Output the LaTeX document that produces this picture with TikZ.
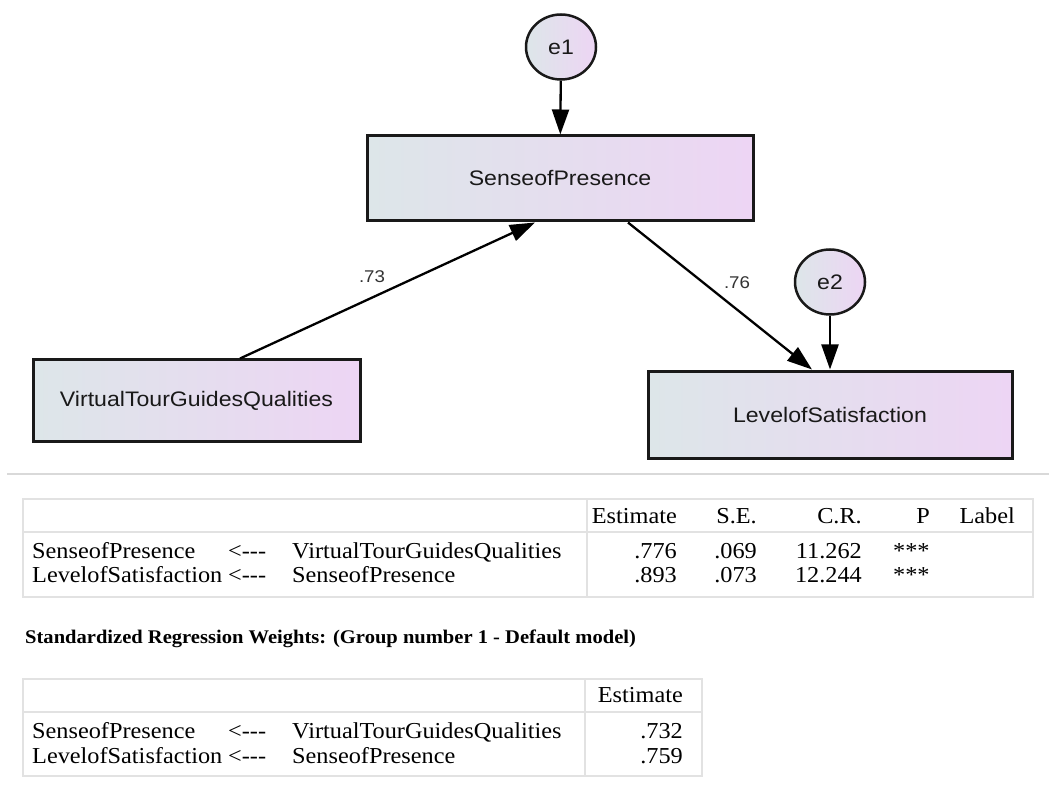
\documentclass[tikz,border=0pt]{standalone}
\usepackage{fontspec}
\usepackage{graphicx}
\setmainfont{Liberation Serif}
\newfontfamily\diafont{Liberation Sans}
\usetikzlibrary{shapes.geometric,arrows.meta}
\definecolor{boxL}{HTML}{DDE6E9}
\definecolor{boxR}{HTML}{EDD5F4}
\definecolor{tabline}{HTML}{E2E2E2}
\newcommand{\hxd}[1]{\scalebox{1.1}[1]{#1}}
\newcommand{\hxt}[1]{\scalebox{1.065}[1]{#1}}
\newcommand{\larr}{<{-}{-}{-}}
\tikzset{
  obs/.style={draw=black!90, line width=3pt, left color=boxL, right color=boxR, inner sep=0pt,
    font=\diafont\fontsize{21}{25}\selectfont, text=black!90},
  err/.style={ellipse, draw=black!90, line width=2.5pt, left color=boxL, right color=boxR, inner sep=0pt,
    minimum width=70pt, minimum height=65pt, font=\diafont\fontsize{21}{25}\selectfont, text=black!90},
  pathar/.style={line width=2.3pt, draw=black, -{Triangle[length=25pt,width=17pt]}},
  coef/.style={font=\diafont\fontsize{17}{20}\selectfont, text=black!80, inner sep=0pt},
  tcell/.style={font=\fontsize{22.8}{27}\selectfont, inner sep=0pt, anchor=base west, text=black},
  tnum/.style={font=\fontsize{22.8}{27}\selectfont, inner sep=0pt, anchor=base east, text=black},
  tframe/.style={draw=tabline, line width=2.5pt},
  ttitle/.style={font=\bfseries\fontsize{19.3}{23}\selectfont, inner sep=0pt, anchor=base west, text=black}
}
\begin{document}
\begin{tikzpicture}[x=1pt,y=-1pt]
\useasboundingbox (0,0) rectangle (1049,799);
\fill[white] (0,0) rectangle (1049,799);

% ---- path diagram ----
\node[obs, minimum width=386pt, minimum height=85pt] (sop) at (560,178.5) {\hxd{SenseofPresence}};
\node[obs, minimum width=327pt, minimum height=81pt] (vtgq) at (196.5,400.5) {\hxd{VirtualTourGuidesQualities}};
\node[obs, minimum width=364pt, minimum height=87pt] (los) at (830,414.5) {\hxd{LevelofSatisfaction}};
\node[err] (e1) at (561,47) {\hxd{e1}};
\node[err] (e2) at (830,282) {\hxd{e2}};

\draw[pathar] (e1) -- (sop);
\draw[pathar] (e2) -- (los);
\draw[pathar] ([xshift=43.5pt]vtgq.north) -- ([xshift=-25pt]sop.south);
\draw[pathar] ([xshift=68pt]sop.south) -- ([xshift=-18pt]los.north);

\node[coef] (c73) at (372,277) {\hxd{.73}};
\node[coef] (c76) at (737,283) {\hxd{.76}};

% separator
\draw[gray!30, line width=1.5pt] (7,474) -- (1049,474);

% ---- table 1 ----
\draw[tframe] (23,499) rectangle (1033,597);
\draw[tframe] (23,532) -- (1033,532);
\draw[tframe] (587,499) -- (587,597);
\node[tnum] (h1) at (677,523) {\hxt{Estimate}};
\node[tnum] (h2) at (757,523) {\hxt{S.E.}};
\node[tnum] (h3) at (862,523) {\hxt{C.R.}};
\node[tnum] (h4) at (930,523) {\hxt{P}};
\node[tnum] (h5) at (1015,523) {\hxt{Label}};

\node[tcell] (a1) at (32,558) {\hxt{SenseofPresence}};
\node[tcell] (a2) at (228,558) {\hxt{\larr}};
\node[tcell] (a3) at (292,558) {\hxt{VirtualTourGuidesQualities}};
\node[tnum] (a4) at (677,558) {\hxt{.776}};
\node[tnum] (a5) at (757,558) {\hxt{.069}};
\node[tnum] (a6) at (862,558) {\hxt{11.262}};
\node[tcell] (a7) at (893,558) {\hxt{***}};

\node[tcell] (b1) at (32,582) {\hxt{LevelofSatisfaction}};
\node[tcell] (b2) at (228,582) {\hxt{\larr}};
\node[tcell] (b3) at (292,582) {\hxt{SenseofPresence}};
\node[tnum] (b4) at (677,582) {\hxt{.893}};
\node[tnum] (b5) at (757,582) {\hxt{.073}};
\node[tnum] (b6) at (862,582) {\hxt{12.244}};
\node[tcell] (b7) at (893,582) {\hxt{***}};

% ---- title ----
\node[ttitle] (title) at (25,643) {\hxt{Standardized Regression Weights: (Group number 1 - Default model)}};

% ---- table 2 ----
\draw[tframe] (23,679) rectangle (702,776);
\draw[tframe] (23,712) -- (702,712);
\draw[tframe] (585,679) -- (585,776);
\node[tnum] (k1) at (683,702) {\hxt{Estimate}};
\node[tcell] (c1) at (32,738) {\hxt{SenseofPresence}};
\node[tcell] (c2) at (228,738) {\hxt{\larr}};
\node[tcell] (c3) at (292,738) {\hxt{VirtualTourGuidesQualities}};
\node[tnum] (c4) at (683,738) {\hxt{.732}};
\node[tcell] (d1) at (32,763) {\hxt{LevelofSatisfaction}};
\node[tcell] (d2) at (228,763) {\hxt{\larr}};
\node[tcell] (d3) at (292,763) {\hxt{SenseofPresence}};
\node[tnum] (d4) at (683,763) {\hxt{.759}};
\end{tikzpicture}
\end{document}
